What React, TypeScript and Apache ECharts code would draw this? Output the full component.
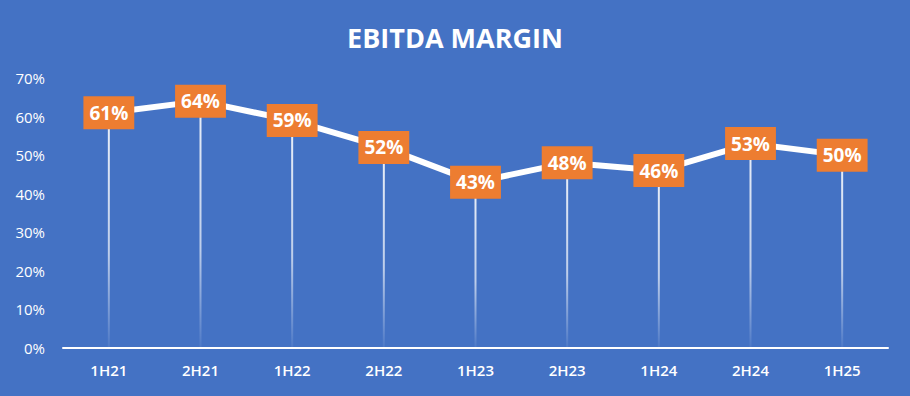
import React, { useEffect, useRef } from "react";
import * as echarts from "echarts";

const categories = ["1H21", "2H21", "1H22", "2H22", "1H23", "2H23", "1H24", "2H24", "1H25"];
const margins = [61, 64, 59, 52, 43, 48, 46, 53, 50];
const yTicks = { min: 0, max: 70, interval: 10 };

export default function App() {
  const ref = useRef<HTMLDivElement>(null);
  useEffect(() => {
    document.body.style.margin = "0";
    const chart = echarts.init(ref.current!, null, { renderer: "svg" });
    chart.setOption({
      animation: false,
      backgroundColor: "#4472C4",
      title: {
        text: "EBITDA MARGIN",
        left: "center",
        top: 19,
        textStyle: { color: "#fff", fontSize: 27, fontWeight: "bold", fontFamily: "Open Sans" },
      },
      grid: { left: 63, right: 22, top: 78, bottom: 48 },
      xAxis: {
        type: "category",
        data: categories,
        axisLine: { lineStyle: { color: "#fff", width: 2 } },
        axisTick: { show: false },
        axisLabel: { color: "#fff", fontSize: 15, margin: 14, fontFamily: "Open Sans", fontWeight: 600 },
      },
      yAxis: {
        type: "value",
        min: yTicks.min,
        max: yTicks.max,
        interval: yTicks.interval,
        axisLine: { show: false },
        axisTick: { show: false },
        splitLine: { show: false },
        axisLabel: { color: "#fff", fontSize: 15, margin: 18, formatter: "{value}%", fontFamily: "Open Sans" },
      },
      series: [
        {
          type: "bar",
          data: margins,
          barWidth: 2,
          z: 1,
          itemStyle: {
            color: new echarts.graphic.LinearGradient(0, 0, 0, 1, [
              { offset: 0, color: "rgba(255,255,255,0.9)" },
              { offset: 0.6, color: "rgba(255,255,255,0.65)" },
              { offset: 1, color: "rgba(255,255,255,0.05)" },
            ]),
          },
        },
        {
          type: "line",
          data: margins,
          z: 3,
          symbol: "circle",
          symbolSize: 2,
          showSymbol: true,
          itemStyle: { color: "rgba(255,255,255,0)" },
          lineStyle: { color: "#fff", width: 6 },
          label: {
            show: true,
            position: "inside",
            formatter: "{c}%",
            color: "#fff",
            fontSize: 19,
            lineHeight: 20,
            fontWeight: "bold",
            fontFamily: "Open Sans",
            backgroundColor: "#ED7D31",
            padding: [7, 6, 6, 6],
          },
        },
      ],
    });
    return () => chart.dispose();
  }, []);
  return <div ref={ref} style={{ width: 910, height: 396 }} />;
}
